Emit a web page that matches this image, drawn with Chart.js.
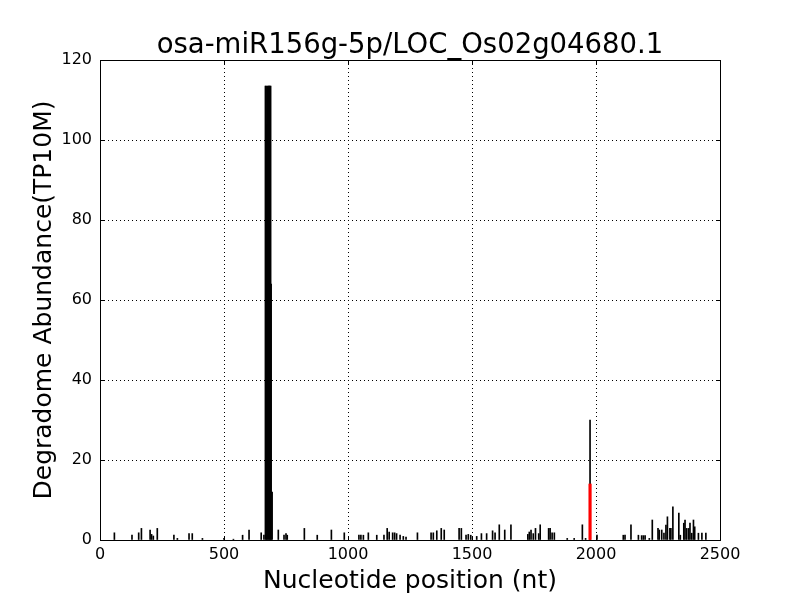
<!DOCTYPE html>
<html>
<head>
<meta charset="utf-8">
<script src="https://cdn.jsdelivr.net/npm/chart.js@4/dist/chart.umd.min.js"></script>
<style>
  html, body { margin: 0; padding: 0; background: #fff; }
</style>
</head>
<body>
<canvas id="deg-chart" width="800" height="600"></canvas>
<script>
// degradome read positions along the transcript (nt) and abundance (TP10M)
const positions = [
    58, 129, 156, 167, 202, 208, 215, 231, 298, 312, 359, 372, 413, 500, 538, 575, 601, 650, 661,
    667, 670, 673, 676, 679, 682, 685, 688, 690, 694,
    719, 742, 750, 755, 824, 876, 933, 985, 1044, 1052, 1062, 1082, 1116, 1145, 1158, 1166,
    1180, 1188, 1196, 1210, 1223, 1234, 1280, 1335, 1344, 1358, 1376, 1388, 1448, 1457, 1476,
    1485, 1495, 1519, 1538, 1559, 1583, 1593, 1610, 1632, 1657, 1725, 1731, 1738, 1747, 1756,
    1769, 1775, 1809, 1815, 1823, 1832, 1884, 1912, 1945, 1958, 1976, 2004, 2110, 2117, 2141,
    2171, 2184, 2191, 2198, 2215, 2227, 2250, 2255, 2265, 2274, 2282, 2288, 2298, 2302, 2310,
    2334, 2340, 2354, 2359, 2366, 2374, 2379, 2386, 2393, 2398, 2413, 2427, 2443
];
const abundance = [
    1.8, 1.2, 1.8, 2.9, 2.5, 1.4, 1.0, 2.9, 1.2, 0.4, 1.6, 1.6, 0.4, 0.4, 0.2, 1.2, 2.5, 1.8, 1.2,
    113.5, 113.5, 104, 113.5, 113.5, 113.5, 113.5, 113.5, 64, 12,
    2.5, 1.2, 1.6, 1.2, 2.9, 1.2, 2.5, 1.8, 1.2, 1.2, 1.2, 1.8, 1.2, 1.2, 2.9, 2.0,
    1.8, 1.8, 1.6, 1.2, 0.9, 0.7, 1.8, 1.8, 1.8, 2.3, 2.9, 2.5, 2.9, 2.9, 1.2,
    1.4, 1.2, 0.9, 1.6, 1.6, 2.3, 1.8, 3.8, 2.5, 3.8, 1.4, 2.0, 2.5, 1.6, 2.9,
    1.6, 3.8, 2.9, 2.9, 1.8, 1.8, 0.4, 0.4, 3.8, 0.4, 30, 1.2, 1.2, 1.2, 3.8,
    1.2, 1.1, 1.1, 1.1, 0.4, 5.0, 2.9, 2.5, 2.5, 1.7, 3.75, 5.8, 2.9, 2.9, 8.3,
    6.7, 1.2, 4.2, 5.0, 2.9, 2.9, 4.2, 1.7, 5.0, 3.3, 1.7, 1.7, 1.7
];
// predicted miRNA cleavage site
const cleavePos = [1976];
const cleaveVal = [14];

const TITLE = 'osa-miR156g-5p/LOC_Os02g04680.1';
const X_LABEL = 'Nucleotide position (nt)';
const Y_LABEL = 'Degradome Abundance(TP10M)';
const FONT = 'DejaVu Sans';

var toPoints = (xs, ys) => xs.map((x, i) => ({ x: x, y: ys[i] }));

// black frame, inward ticks and a title centred over the plot area
var framePlugin = {
    id: 'frame',
    afterDraw: (chart) => {
        const ctx = chart.ctx, a = chart.chartArea;
        const xs = chart.scales.x, ys = chart.scales.y;
        ctx.save();
        ctx.strokeStyle = '#000';
        ctx.lineWidth = 1;
        ctx.setLineDash([]);
        ctx.beginPath();
        xs.ticks.forEach(t => {
            const px = Math.round(xs.getPixelForValue(t.value)) + 0.5;
            ctx.moveTo(px, a.bottom); ctx.lineTo(px, a.bottom - 4);
            ctx.moveTo(px, a.top); ctx.lineTo(px, a.top + 4);
        });
        ys.ticks.forEach(t => {
            const py = Math.round(ys.getPixelForValue(t.value)) + 0.5;
            ctx.moveTo(a.left, py); ctx.lineTo(a.left + 4, py);
            ctx.moveTo(a.right, py); ctx.lineTo(a.right - 4, py);
        });
        ctx.stroke();
        ctx.strokeRect(Math.round(a.left) + 0.5, Math.round(a.top) + 0.5,
                       Math.round(a.right - a.left), Math.round(a.bottom - a.top));

        ctx.fillStyle = '#000';
        ctx.font = '27.5px "' + FONT + '"';
        ctx.textAlign = 'center';
        ctx.textBaseline = 'alphabetic';
        ctx.fillText(TITLE, (a.left + a.right) / 2, a.top - 7);
        ctx.restore();
    }
};

new Chart(document.getElementById('deg-chart'), {
    type: 'bar',
    data: {
        datasets: [{
            data: toPoints(cleavePos, cleaveVal),
            backgroundColor: '#ff0000',
            barThickness: 2.5,
            order: 0
        }, {
            data: toPoints(positions, abundance),
            backgroundColor: '#000000',
            barThickness: 1,
            order: 1
        }]
    },
    options: {
        responsive: false,
        animation: false,
        events: [],
        layout: { padding: { left: 0, right: 80, top: 60, bottom: 0 } },
        datasets: { bar: { grouped: false } },
        plugins: {
            legend: { display: false },
            tooltip: { enabled: false },
            title: { display: false }
        },
        scales: {
            x: {
                type: 'linear',
                min: 0,
                max: 2500,
                offset: false,
                ticks: {
                    stepSize: 500,
                    color: '#000',
                    padding: 5,
                    font: { family: FONT, size: 16 },
                    callback: (v) => String(v)
                },
                grid: {
                    offset: false,
                    color: '#000',
                    lineWidth: 1,
                    drawTicks: false
                },
                border: { display: false, dash: [1, 3] },
                title: {
                    display: true,
                    text: X_LABEL,
                    color: '#000',
                    font: { family: FONT, size: 25 },
                    padding: { top: 0, bottom: 4 }
                },
                afterFit: (s) => { s.height = 60; }
            },
            y: {
                min: 0,
                max: 120,
                ticks: {
                    stepSize: 20,
                    color: '#000',
                    padding: 8,
                    font: { family: FONT, size: 16 },
                    callback: (v) => String(v)
                },
                grid: {
                    color: '#000',
                    lineWidth: 1,
                    drawTicks: false
                },
                border: { display: false, dash: [1, 3] },
                title: {
                    display: true,
                    text: Y_LABEL,
                    color: '#000',
                    font: { family: FONT, size: 25 },
                    padding: { top: 29, bottom: 0 }
                },
                afterFit: (s) => { s.width = 100; }
            }
        }
    },
    plugins: [framePlugin]
});
</script>
</body>
</html>
